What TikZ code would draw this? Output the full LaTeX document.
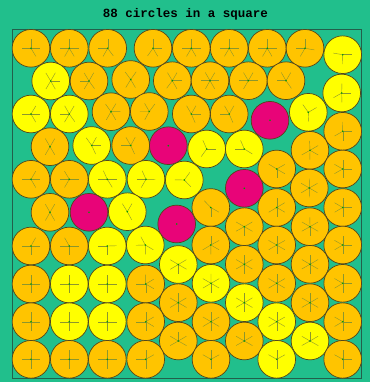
\documentclass[tikz,border=0pt]{standalone}
\usepackage{fontspec}
\newfontfamily\monofont{Liberation Mono}
\usetikzlibrary{calc}

\definecolor{bgGreen}{RGB}{33,191,140}
\definecolor{rimGreen}{RGB}{35,95,75}
\definecolor{cOrange}{RGB}{255,196,0}
\definecolor{cYellow}{RGB}{255,255,0}
\definecolor{cMagenta}{RGB}{232,4,120}
\definecolor{discEdge}{RGB}{85,70,25}
\definecolor{touchLine}{RGB}{140,150,45}

% x / y / kind (0 = rattler, 1 = yellow, 2 = orange)
\def\circlelist{%
31/48.3/2, 69.3/48.3/2, 107.7/48.3/2, 153/48.3/2, 191.3/48.3/2, 229.2/48.3/2, 267.3/48.3/2, 305/48.3/2, 342.7/54.7/1,
50.7/81/1, 89/81/2, 130.7/79.5/2, 172.3/80.7/2, 210/80.7/2, 248.3/80.7/2, 286/80.7/2, 341.7/93/1,
31/114/1, 69.3/114/1, 111/111.7/2, 149.3/111.5/2, 191.3/114/2, 229.2/114/2, 270/120.3/0, 308.3/112.3/1, 342.7/131.3/2,
50/146.7/2, 91.7/145.5/1, 130.7/145.5/2, 168.3/145.7/0, 206.7/149/1, 244.3/149/1, 310/150.3/2,
31/179.3/2, 69.3/179.3/2, 107.3/179.3/1, 146/179.3/1, 184.3/180/1, 244.3/188.3/0, 276.7/169/2, 309.3/188/2, 342.7/169/2,
50/212.3/2, 89/212.3/0, 127.3/211.7/1, 176.7/224/0, 210.8/207.5/2, 276.7/207.5/2, 342.7/207.5/2,
244.3/226.7/2, 310/226.7/2,
31/246/2, 69.3/246/2, 107.3/246/1, 145.3/245/1, 210.8/245/2, 276.7/245/2, 342.7/245/2,
178.3/264.5/1, 244.3/264.3/2, 310/264.3/2,
31/284/2, 69.3/284/1, 107.3/284/1, 145.7/284/2, 211/283.3/1, 276.7/283.3/2, 342.7/283.3/2,
178.3/302.7/2, 244.3/302.7/1, 310/302.7/2,
31/321.7/2, 69.3/321.7/1, 107.3/321.7/1, 145.7/321.7/2, 211/321.7/2, 276.7/321.7/1, 342.7/321.7/2,
178.3/341/2, 244.3/341/2, 310/341/1,
31/359.3/2, 69.3/359.3/2, 107.3/359.3/2, 145.7/359.3/2, 211/359.3/2, 276.7/359.3/1, 342.7/359.3/2}

\begin{document}
\begin{tikzpicture}[x=1pt, y=-1pt,
    disc/.style={draw=discEdge, line width=0.7pt},
    contact/.style={draw=touchLine, line width=0.4pt},
    hub/.style={fill=black!40!green}]
    % 1. Nền và khung hình vuông
    \fill[bgGreen] (0,0) rectangle (370,382);
    \useasboundingbox (0,0) rectangle (370,382);
    \node[font=\monofont\bfseries\fontsize{12.5}{14}\selectfont] (title) at (185.5,14.5) {88 circles in a square};
    \draw[rimGreen, line width=0.8pt] (12.2,29.4) rectangle (361.5,378.2);

    % 2. Các hình tròn
    \foreach \xa/\ya/\ka in \circlelist {
        \ifcase\ka \def\tint{cMagenta}\or \def\tint{cYellow}\else \def\tint{cOrange}\fi
        \path[disc, fill=\tint] (\xa,\ya) circle[radius=18.85];
    }

    % 3. Các đoạn chỉ điểm tiếp xúc (bỏ qua hình tròn lỏng)
    \foreach \xa/\ya/\ka in \circlelist {
        \ifnum\ka>0
            \foreach \xb/\yb/\kb in \circlelist {
                \ifnum\kb>0
                    \pgfmathsetmacro\gap{veclen(\xb-\xa,\yb-\ya)}
                    \ifdim\gap pt>1pt \ifdim\gap pt<39.2pt
                        \draw[contact] (\xa,\ya) -- ($(\xa,\ya)!9.4pt!(\xb,\yb)$);
                    \fi\fi
                \fi
            }
            \ifdim\xa pt<32.4pt \draw[contact] (\xa,\ya) -- ++(-9.4,0); \fi
            \ifdim\xa pt>341.3pt \draw[contact] (\xa,\ya) -- ++(9.4,0); \fi
            \ifdim\ya pt<49.6pt \draw[contact] (\xa,\ya) -- ++(0,-9.4); \fi
            \ifdim\ya pt>358pt \draw[contact] (\xa,\ya) -- ++(0,9.4); \fi
        \fi
        \fill[hub] (\xa,\ya) circle[radius=0.9];
    }
\end{tikzpicture}
\end{document}
